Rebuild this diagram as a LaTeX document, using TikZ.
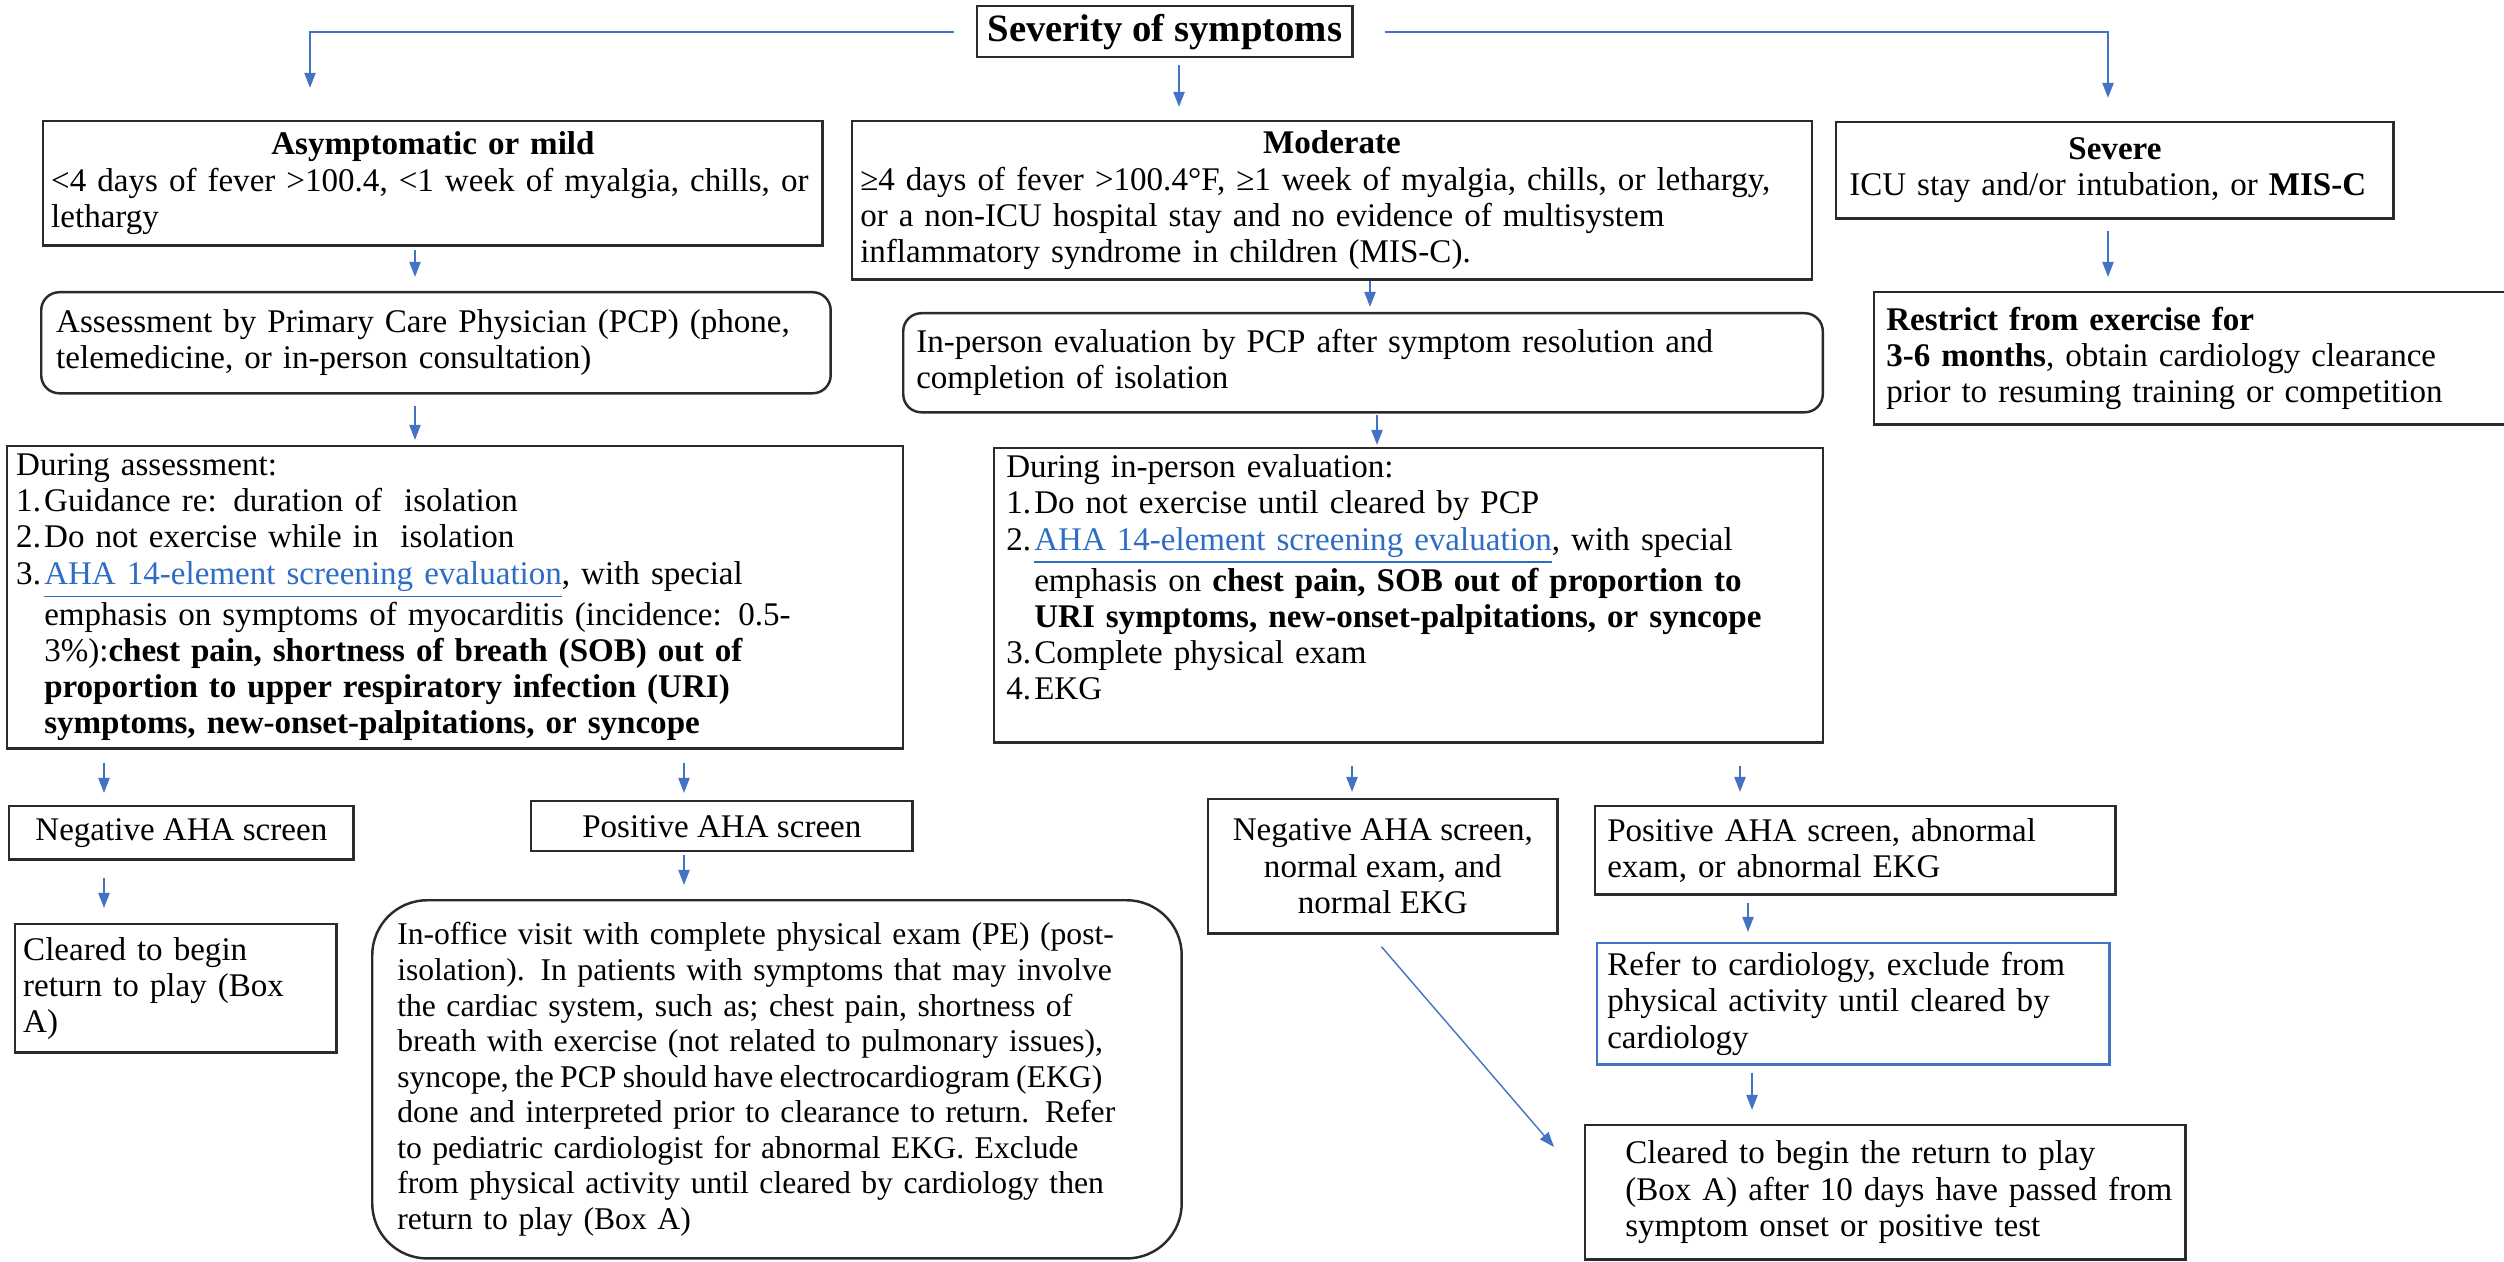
\documentclass[tikz,border=0pt]{standalone}
\usepackage{fontspec}
\setmainfont{Liberation Serif}
\usetikzlibrary{arrows.meta}
\definecolor{arrowblue}{HTML}{4472C4}
\definecolor{linkblue}{HTML}{2E6DC4}
\definecolor{boxline}{HTML}{2B2B2B}
\newcommand*{\bodyfont}{\fontsize{9.4}{10.3}\selectfont\hyphenpenalty=10000\exhyphenpenalty=10000}
\newcommand*{\officefont}{\fontsize{9.0}{10.1}\selectfont\hyphenpenalty=10000\exhyphenpenalty=10000}
\newcommand*{\hangin}{\hspace*{0.28cm}}
\newcommand*{\itemno}[1]{\makebox[0.28cm][l]{#1}}
\newcommand*{\ahalink}{{\color{linkblue}\underline{AHA 14-element screening evaluation}}}
\tikzset{
  box/.style={draw=boxline, line width=0.7pt, rectangle, anchor=north west,
    inner xsep=0.1cm, inner ysep=0pt, align=left, font=\bodyfont},
  roundbox/.style={box, rounded corners=0.18cm},
  flow/.style={arrowblue, line width=0.6pt, -{Triangle[length=0.15cm, width=0.11cm]}},
}

\begin{document}
\begin{tikzpicture}[x=0.01cm, y=-0.01cm]
    \path [use as bounding box] (0,0) rectangle (2504,1261);

    % top row
    \node [box, align=center, minimum width=3.75cm, minimum height=0.51cm,
        font=\fontsize{11}{12}\selectfont\bfseries] (sev) at (976,5) {Severity of symptoms};
    \node [box, inner xsep=0.08cm, text width=7.63cm, minimum height=1.24cm] (asym) at (42,120)
        {\makebox[\linewidth]{\textbf{Asymptomatic or mild}}\\
         <4 days of fever >100.4, <1 week of myalgia, chills, or\\
         lethargy};
    \node [box, inner xsep=0.08cm, text width=9.43cm, minimum height=1.58cm] (mod) at (851,120)
        {\makebox[\linewidth]{\textbf{Moderate}}\\
         ≥4 days of fever >100.4°F, ≥1 week of myalgia, chills, or lethargy,\\
         or a non-ICU hospital stay and no evidence of multisystem\\
         inflammatory syndrome in children (MIS-C).};
    \node [box, inner xsep=0.13cm, text width=5.31cm, minimum height=0.96cm] (severe) at (1835,121)
        {\makebox[\linewidth]{\textbf{Severe}}\\
         ICU stay and/or intubation, or \textbf{MIS-C}};

    % second row
    \node [roundbox, inner xsep=0.15cm, text width=7.59cm, minimum height=1.01cm] (assess) at (40,291)
        {Assessment by Primary Care Physician (PCP) (phone,\\
         telemedicine, or in-person consultation)};
    \node [roundbox, inner xsep=0.13cm, text width=8.93cm, minimum height=0.99cm] (inperson) at (902,312)
        {In-person evaluation by PCP after symptom resolution and\\
         completion of isolation};
    \node [box, inner xsep=0.12cm, text width=6.13cm, minimum height=1.32cm] (restrict) at (1873,291)
        {\textbf{Restrict from exercise for}\\
         \textbf{3-6 months}, obtain cardiology clearance\\
         prior to resuming training or competition};

    % third row
    \node [box, inner xsep=0.09cm, text width=8.77cm, minimum height=3.02cm] (during) at (6,445)
        {During assessment:\\
         \itemno{1.}Guidance re: duration of\ \ isolation\\
         \itemno{2.}Do not exercise while in\ \ isolation\\
         \itemno{3.}\ahalink, with special\\
         \hangin emphasis on symptoms of myocarditis (incidence: 0.5-\\
         \hangin 3\%):\textbf{chest pain, shortness of breath (SOB) out of}\\
         \hangin\textbf{proportion to upper respiratory infection (URI)}\\
         \hangin\textbf{symptoms, new-onset-palpitations, or syncope}};
    \node [box, inner xsep=0.12cm, text width=8.04cm, minimum height=2.94cm] (duringip) at (993,447)
        {During in-person evaluation:\\
         \itemno{1.}Do not exercise until cleared by PCP\\
         \itemno{2.}\ahalink, with special\\
         \hangin emphasis on \textbf{chest pain, SOB out of proportion to}\\
         \hangin\textbf{URI symptoms, new-onset-palpitations, or syncope}\\
         \itemno{3.}Complete physical exam\\
         \itemno{4.}EKG\\
         ~};

    % screens
    \node [box, align=center, minimum width=3.44cm, minimum height=0.53cm] (negaha) at (8,805)
        {Negative AHA screen};
    \node [box, align=center, minimum width=3.81cm, minimum height=0.50cm] (posaha) at (530,800)
        {Positive AHA screen};
    \node [box, align=center, minimum width=3.49cm, minimum height=1.34cm] (negnormal) at (1207,798)
        {Negative AHA screen,\\ normal exam, and\\ normal EKG};
    \node [box, inner xsep=0.12cm, text width=4.96cm, minimum height=0.88cm] (posabn) at (1594,805)
        {Positive AHA screen, abnormal\\
         exam, or abnormal EKG};

    % outcomes
    \node [box, inner xsep=0.08cm, text width=3.05cm, minimum height=1.28cm] (cleared) at (14,923)
        {Cleared to begin\\ return to play (Box\\ A)};
    \node [box, rounded corners=0.55cm, inner xsep=0.25cm, text width=7.59cm, minimum height=3.58cm,
        font=\officefont] (inoffice) at (371,899)
        {In-office visit with complete physical exam (PE) (post-\\
         isolation). In patients with symptoms that may involve\\
         the cardiac system, such as; chest pain, shortness of\\
         breath with exercise (not related to pulmonary issues),\\
         \mbox{\spaceskip=0.2em syncope, the PCP should have electrocardiogram (EKG)}\\
         done and interpreted prior to clearance to return. Refer\\
         to pediatric cardiologist\ for abnormal EKG. Exclude\\
         from physical activity until cleared by cardiology then\\
         return to play (Box A)};
    \node [box, draw=arrowblue, text width=4.92cm, minimum height=1.21cm] (refer) at (1596,942)
        {Refer to cardiology, exclude from\\
         physical activity until cleared by\\
         cardiology};
    \node [box, inner xsep=0.4cm, text width=5.2cm, minimum height=1.34cm] (final) at (1584,1124)
        {Cleared to begin the return to play\\
         \mbox{(Box A) after 10 days have passed from}\\
         symptom onset or positive test};

    % connectors
    \draw [flow, shorten <=0.22cm, shorten >=0.32cm] (sev.west) -| (asym.north -| 310,0);
    \draw [flow, shorten <=0.07cm, shorten >=0.13cm] (sev.south -| 1179,0) -- (mod.north -| 1179,0);
    \draw [flow, shorten <=0.31cm, shorten >=0.23cm] (sev.east) -| (severe.north -| 2108,0);
    \draw [flow, shorten <=0.03cm, shorten >=0.14cm] (asym.south -| 415,0) -- (assess.north -| 415,0);
    \draw [flow, shorten >=0.05cm] (mod.south -| 1370,0) -- (inperson.north -| 1370,0);
    \draw [flow, shorten <=0.11cm, shorten >=0.14cm] (severe.south -| 2108,0) -- (restrict.north -| 2108,0);
    \draw [flow, shorten <=0.11cm, shorten >=0.05cm] (assess.south -| 415,0) -- (during.north -| 415,0);
    \draw [flow, shorten <=0.01cm, shorten >=0.02cm] (inperson.south -| 1377,0) -- (duringip.north -| 1377,0);
    \draw [flow, shorten <=0.13cm, shorten >=0.12cm] (during.south -| 104,0) -- (negaha.north -| 104,0);
    \draw [flow, shorten <=0.13cm, shorten >=0.07cm] (during.south -| 684,0) -- (posaha.north -| 684,0);
    \draw [flow, shorten <=0.17cm, shorten >=0.15cm] (negaha.south -| 104,0) -- (cleared.north -| 104,0);
    \draw [flow, shorten <=0.02cm, shorten >=0.14cm] (posaha.south -| 684,0) -- (inoffice.north -| 684,0);
    \draw [flow, shorten <=0.22cm, shorten >=0.06cm] (duringip.south -| 1352,0) -- (negnormal.north -| 1352,0);
    \draw [flow, shorten <=0.22cm, shorten >=0.13cm] (duringip.south -| 1740,0) -- (posabn.north -| 1740,0);
    \draw [flow, shorten <=0.07cm, shorten >=0.10cm] (posabn.south -| 1748,0) -- (refer.north -| 1748,0);
    \draw [flow, shorten <=0.07cm, shorten >=0.14cm] (refer.south -| 1752,0) -- (final.north -| 1752,0);
    \coordinate (diagtip) at (1554,1147);
    \draw [flow, line width=0.4pt, shorten <=0.16cm] (negnormal.south -| 1371,0) -- (diagtip);
\end{tikzpicture}
\end{document}
